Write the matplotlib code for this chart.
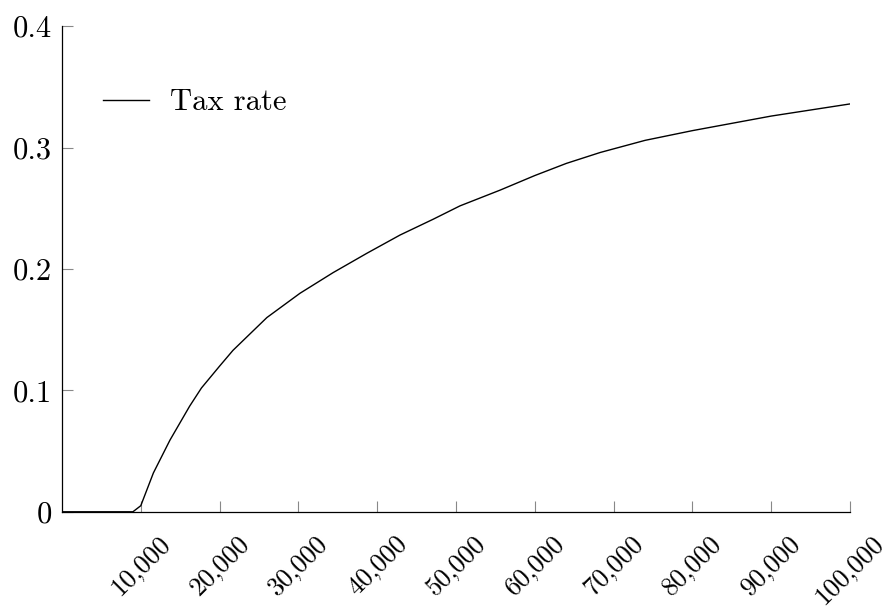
import numpy as np
import matplotlib
matplotlib.use('Agg')
import matplotlib.pyplot as plt
from matplotlib.ticker import FuncFormatter

plt.rcParams['font.family'] = 'cmr10'
plt.rcParams['axes.formatter.use_mathtext'] = True

# income vs average tax rate
income = [0, 9000, 10000, 11600, 13700, 16200, 17700, 20000, 21700, 26000,
          30200, 34400, 38700, 42900, 47100, 50500, 55600, 60000, 64000,
          68300, 74000, 80000, 85000, 90000, 95000, 100000]
rate = [0, 0, 0.005, 0.032, 0.059, 0.087, 0.102, 0.120, 0.133, 0.160,
        0.180, 0.197, 0.213, 0.228, 0.241, 0.252, 0.265, 0.277, 0.287,
        0.296, 0.306, 0.314, 0.320, 0.326, 0.331, 0.336]

xticks = [10000, 20000, 30000, 40000, 50000, 60000, 70000, 80000, 90000, 100000]
yticks = [0, 0.1, 0.2, 0.3, 0.4]

fig = plt.figure(figsize=(8.89, 6.10), dpi=100)
ax = fig.add_axes([0.0697, 0.161, 0.8865, 0.796])

ax.plot(income, rate, color='black', lw=1.0, label='Tax rate')

ax.set_xlim(0, 100000)
ax.set_ylim(0, 0.4)
ax.set_xticks(xticks)
ax.set_yticks(yticks)
ax.xaxis.set_major_formatter(FuncFormatter(lambda v, p: '{:,}'.format(int(v))))
ax.yaxis.set_major_formatter(FuncFormatter(lambda v, p: '0' if v == 0 else '%g' % v))

for s in ['top', 'right']:
    ax.spines[s].set_visible(False)
for s in ['left', 'bottom']:
    ax.spines[s].set_linewidth(0.9)

ax.tick_params(axis='both', direction='in', length=8, width=0.8,
               color='#888888', labelsize=22)
ax.tick_params(axis='x', pad=14, labelsize=19)
ax.tick_params(axis='y', pad=7)
for lab in ax.get_xticklabels():
    lab.set_rotation(45)
    lab.set_ha('center')
    lab.set_va('top')

ax.legend(loc='upper left', bbox_to_anchor=(0.052, 0.871), frameon=False,
          fontsize=22, handlelength=1.5, handletextpad=0.7,
          borderpad=0, borderaxespad=0)

plt.savefig('out.png', dpi=100)
